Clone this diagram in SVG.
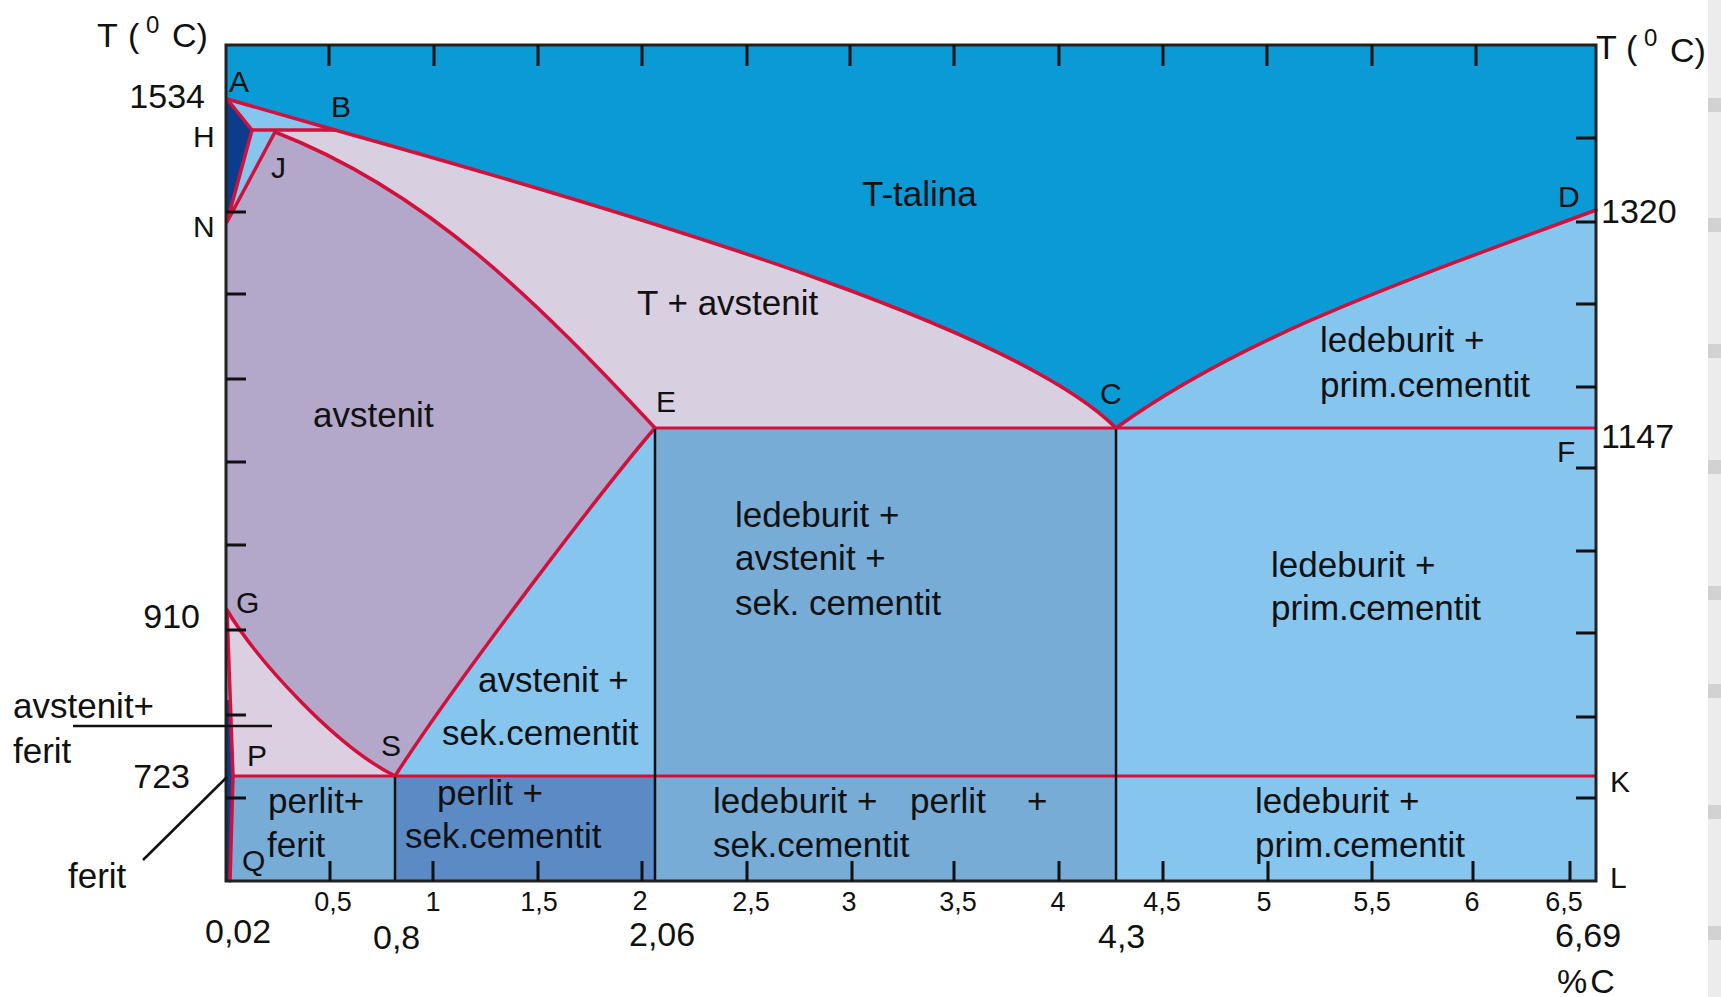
<svg xmlns="http://www.w3.org/2000/svg" width="1721" height="997" viewBox="0 0 1721 997">
<defs>
<style>
.t{font-family:"Liberation Sans",Arial,sans-serif;fill:#111}
.rl{font-size:35px}
.ax{font-size:34px}
.tk{font-size:27px}
.pt{font-size:30px}
.red{fill:none;stroke:#d2103c;stroke-width:3.5;stroke-linejoin:round;stroke-linecap:round}
.eut{fill:none;stroke:#d2103c;stroke-width:3}
.blk{stroke:#111;stroke-width:2.5;fill:none}
.tick{stroke:#111;stroke-width:3}
.lead{stroke:#111;stroke-width:2.5;fill:none}
</style>
</defs>
<rect width="1721" height="997" fill="#ffffff"/>
<g id="scrollbar">
<rect x="1708" y="0" width="13" height="997" fill="#ececec"/>
<g fill="#d2d2d2">
<rect x="1708" y="98" width="13" height="14"/>
<rect x="1708" y="218" width="13" height="14"/>
<rect x="1708" y="344" width="13" height="14"/>
<rect x="1708" y="460" width="13" height="14"/>
<rect x="1708" y="586" width="13" height="14"/>
<rect x="1708" y="684" width="13" height="14"/>
<rect x="1708" y="805" width="13" height="14"/>
<rect x="1708" y="926" width="13" height="14"/>
</g>
</g>
<g id="regions">
<rect id="liquid" x="226" y="45" width="1370" height="836" fill="#0a9ad6"/>
<path id="below-liquidus" d="M227,99 L335,130 C685,228 1020,332 1116,428 C1246,334 1416,277 1596,210 L1596,881 L226,881 L226,99 Z" fill="#86c5ee"/>
<path id="liquid-austenite" d="M335,130 C685,228 1020,332 1116,428 L655,428 C540,305 430,192 275,132 L275,130 Z" fill="#d8cfe1"/>
<path id="austenite" d="M227,222 L275,132 C430,192 540,305 655,428 C610,480 460,675 395,776 C335,746 257,660 227,610 Z" fill="#b3a7ca"/>
<path id="delta" d="M226,99 L252,130 L227,222 L226,222 Z" fill="#0b3d8c"/>
<path id="alpha-gamma" d="M227,610 C257,660 335,746 395,776 L233,776 Z" fill="#dccfe1"/>
<rect id="led-aus" x="655" y="428" width="461" height="348" fill="#77acd7"/>
<rect id="perlit-ferit" x="226" y="776" width="169" height="105" fill="#77acd7"/>
<rect id="perlit-sek" x="395" y="776" width="260" height="105" fill="#5b8ac5"/>
<rect id="led-perlit" x="655" y="776" width="461" height="105" fill="#77acd7"/>
<path id="ferrite" d="M226,700 L230,700 L233,776 L230,881 L226,881 Z" fill="#0b3d8c"/>
</g>
<g id="connectors">
<path class="red" d="M227,99 L335,130 C685,228 1020,332 1116,428"/>
<path class="red" d="M1116,428 C1246,334 1416,277 1596,210"/>
<path class="red" d="M227,99 L252,130 L335,130"/>
<path class="red" d="M252,130 L227,222 L275,132"/>
<path class="red" d="M275,132 C430,192 540,305 655,428"/>
<path class="red" d="M655,428 C610,480 460,675 395,776"/>
<path class="red" d="M227,610 C257,660 335,746 395,776"/>
<path class="red" d="M227,610 L233,776 L230,881"/>
<line class="eut" x1="655" y1="428" x2="1596" y2="428"/>
<line class="eut" x1="233" y1="776" x2="1596" y2="776"/>
<line class="blk" x1="655" y1="429" x2="655" y2="881"/>
<line class="blk" x1="1116" y1="429" x2="1116" y2="881"/>
<line class="blk" x1="395" y1="777" x2="395" y2="881"/>
<rect x="226" y="45" width="1370" height="836" fill="none" stroke="#222" stroke-width="3"/>
<g id="ticks" class="tick">
<path d="M329,45v21 M434,45v21 M538,45v21 M642,45v21 M747,45v21 M850,45v21 M954,45v21 M1059,45v21 M1163,45v21 M1267,45v21 M1372,45v21 M1476,45v21"/>
<path d="M330,881v-20 M433,881v-20 M538,881v-20 M642,881v-20 M747,881v-20 M852,881v-20 M954,881v-20 M1059,881v-20 M1163,881v-20 M1268,881v-20 M1372,881v-20 M1473,881v-20 M1570,881v-20"/>
<path d="M226,212h20 M226,294h20 M226,379h20 M226,462h20 M226,545h20 M226,630h20 M226,715h20 M226,798h20"/>
<path d="M1596,138h-20 M1596,222h-20 M1596,304h-20 M1596,387h-20 M1596,468h-20 M1596,551h-20 M1596,633h-20 M1596,717h-20 M1596,798h-20"/>
</g>
<line class="lead" x1="73" y1="726" x2="272" y2="726"/>
<line class="lead" x1="143" y1="860" x2="227" y2="777"/>
</g>
<g id="region-labels" class="t rl">
<text x="862" y="206">T-talina</text>
<text x="637" y="315">T + avstenit</text>
<text x="313" y="427">avstenit</text>
<text x="1320" y="352">ledeburit +</text>
<text x="1320" y="397">prim.cementit</text>
<text x="735" y="527">ledeburit +</text>
<text x="735" y="570">avstenit +</text>
<text x="735" y="615">sek. cementit</text>
<text x="1271" y="577">ledeburit +</text>
<text x="1271" y="620">prim.cementit</text>
<text x="478" y="692">avstenit +</text>
<text x="442" y="745">sek.cementit</text>
<text x="437" y="805">perlit +</text>
<text x="405" y="848">sek.cementit</text>
<text x="713" y="813">ledeburit +</text>
<text x="910" y="813">perlit</text>
<text x="1027" y="813">+</text>
<text x="713" y="857">sek.cementit</text>
<text x="1255" y="813">ledeburit +</text>
<text x="1255" y="857">prim.cementit</text>
<text x="268" y="813">perlit+</text>
<text x="267" y="857">ferit</text>
<text x="13" y="718">avstenit+</text>
<text x="13" y="763">ferit</text>
<text x="68" y="888">ferit</text>
</g>
<g id="point-labels" class="t pt">
<text x="229" y="92">A</text>
<text x="331" y="117">B</text>
<text x="193" y="147">H</text>
<text x="271" y="178">J</text>
<text x="193" y="237">N</text>
<text x="656" y="412">E</text>
<text x="1100" y="404">C</text>
<text x="1558" y="207">D</text>
<text x="1557" y="462">F</text>
<text x="236" y="613">G</text>
<text x="247" y="766">P</text>
<text x="381" y="756">S</text>
<text x="242" y="871">Q</text>
<text x="1610" y="792">K</text>
<text x="1610" y="888">L</text>
</g>
<g id="axis-labels" class="t">
<text class="ax" x="97" y="47">T<tspan x="128">(</tspan><tspan x="146" y="33" font-size="24">0</tspan><tspan x="172" y="47">C)</tspan></text>
<text class="ax" x="1596" y="59">T<tspan x="1626">(</tspan><tspan x="1644" y="46" font-size="24">0</tspan><tspan x="1670" y="62">C)</tspan></text>
<text class="ax" x="205" y="108" text-anchor="end">1534</text>
<text class="ax" x="200" y="628" text-anchor="end">910</text>
<text class="ax" x="190" y="788" text-anchor="end">723</text>
<text class="ax" x="1601" y="223">1320</text>
<text class="ax" x="1601" y="448">1147</text>
<text class="ax" x="205" y="943">0,02</text>
<text class="ax" x="373" y="949">0,8</text>
<text class="ax" x="629" y="946">2,06</text>
<text class="ax" x="1098" y="948">4,3</text>
<text class="ax" x="1555" y="947">6,69</text>
<text class="ax" x="1557" y="993" letter-spacing="3">%C</text>
<g class="tk" text-anchor="middle">
<text x="333" y="911">0,5</text>
<text x="433" y="911">1</text>
<text x="539" y="911">1,5</text>
<text x="640" y="910">2</text>
<text x="751" y="911">2,5</text>
<text x="849" y="911">3</text>
<text x="958" y="911">3,5</text>
<text x="1058" y="911">4</text>
<text x="1162" y="911">4,5</text>
<text x="1264" y="911">5</text>
<text x="1372" y="911">5,5</text>
<text x="1472" y="911">6</text>
<text x="1564" y="911">6,5</text>
</g>
</g>
</svg>
